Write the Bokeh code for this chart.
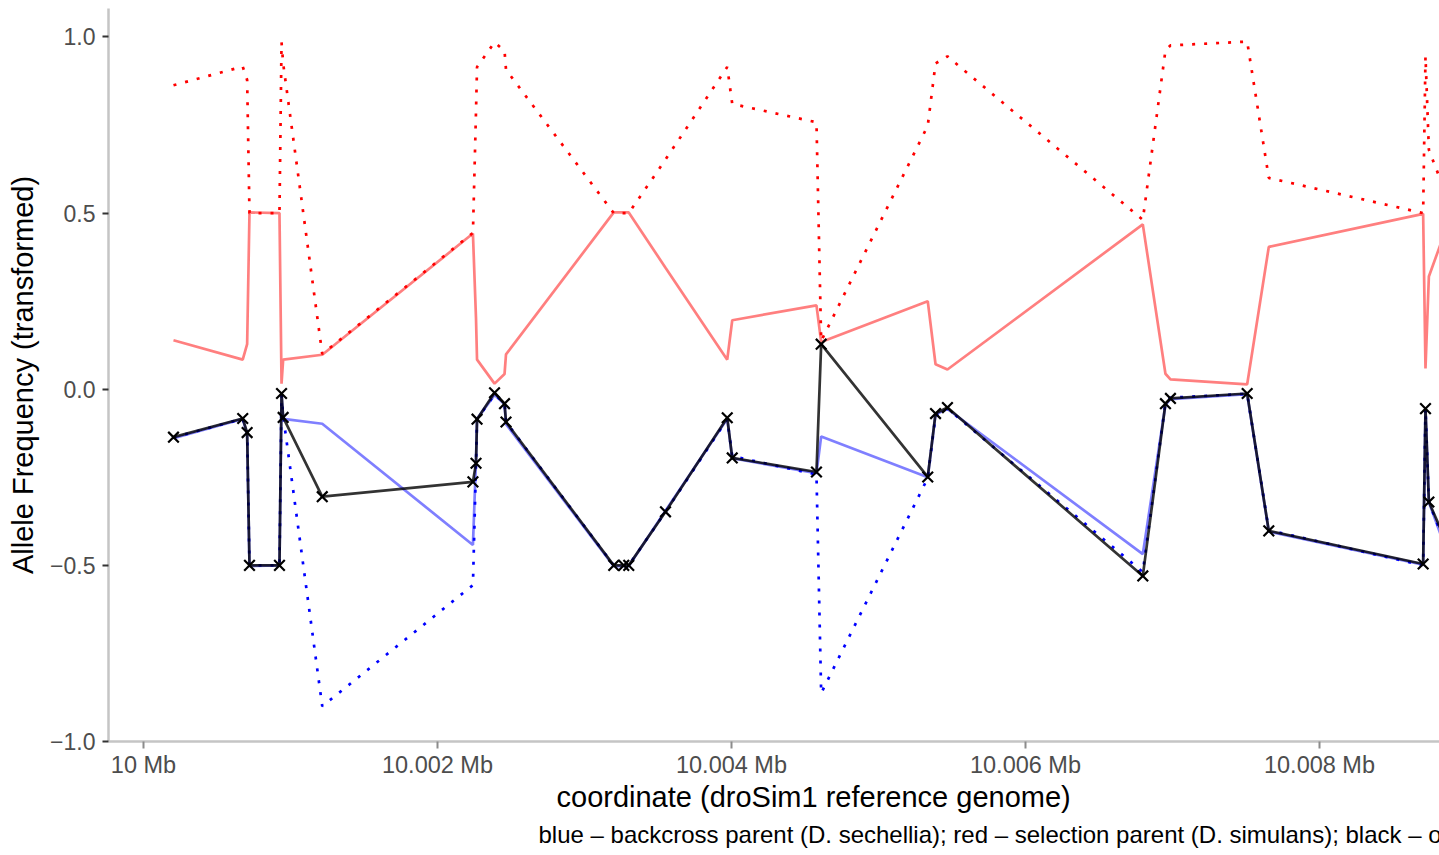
from bokeh.plotting import figure
from bokeh.models import Range1d, FixedTicker, Title
from bokeh.embed import file_html
from bokeh.resources import INLINE

# ---- data (positions in bp on droSim1; values = transformed allele frequency) ----
BASE = 10000000
pos_offset_bp = [204, 675, 705, 721, 925, 939, 950, 1216, 2241, 2262, 2269, 2388,
                 2456, 2466, 3199, 3267, 3301, 3551, 3971, 4005, 4578, 4610, 5335,
                 5388, 5469, 6798, 6952, 6986, 7508, 7655, 8705, 8721, 8744, 8891]

# black: offspring
offspring = [-0.136, -0.083, -0.123, -0.500, -0.500, -0.012, -0.080, -0.305, -0.263,
             -0.210, -0.085, -0.010, -0.041, -0.093, -0.500, -0.500, -0.500, -0.348,
             -0.081, -0.195, -0.235, 0.128, -0.249, -0.069, -0.052, -0.530, -0.041,
             -0.026, -0.012, -0.402, -0.496, -0.055, -0.320, -0.460]

# red dotted: selection parent (D. simulans)
selection_dotted = [0.863, 0.916, 0.878, 0.500, 0.500, 0.985, 0.925, 0.100, 0.444,
                    0.790, 0.915, 0.985, 0.960, 0.907, 0.500, 0.500, 0.500, 0.652,
                    0.915, 0.810, 0.758, 0.137, 0.748, 0.925, 0.945, 0.481, 0.962,
                    0.976, 0.987, 0.600, 0.500, 0.945, 0.680, 0.520]

# red solid: selection parent (light)
selection_solid = [0.139, 0.084, 0.128, 0.502, 0.500, 0.016, 0.084, 0.098, 0.442,
                   0.200, 0.084, 0.016, 0.043, 0.099, 0.502, 0.502, 0.502, 0.345,
                   0.084, 0.196, 0.238, 0.134, 0.250, 0.071, 0.056, 0.468, 0.044,
                   0.028, 0.014, 0.404, 0.498, 0.059, 0.320, 0.490]

# blue dotted: backcross parent (D. sechellia)
backcross_dotted = [-0.137, -0.084, -0.122, -0.500, -0.500, -0.015, -0.075, -0.900, -0.556,
                    -0.210, -0.085, -0.015, -0.040, -0.093, -0.500, -0.500, -0.500, -0.348,
                    -0.085, -0.190, -0.242, -0.863, -0.252, -0.075, -0.055, -0.519, -0.038,
                    -0.024, -0.013, -0.400, -0.500, -0.055, -0.320, -0.480]

# blue solid: backcross parent (light)
backcross_solid = [-0.139, -0.084, -0.128, -0.502, -0.500, -0.016, -0.084, -0.098, -0.442,
                   -0.200, -0.084, -0.016, -0.043, -0.099, -0.502, -0.502, -0.502, -0.345,
                   -0.084, -0.196, -0.238, -0.134, -0.250, -0.071, -0.056, -0.468, -0.044,
                   -0.028, -0.014, -0.404, -0.498, -0.059, -0.320, -0.490]

x_ticks = [10000000, 10002000, 10004000, 10006000, 10008000]
x_tick_labels = ["10 Mb", "10.002 Mb", "10.004 Mb", "10.006 Mb", "10.008 Mb"]
y_ticks = [-1.0, -0.5, 0.0, 0.5, 1.0]
y_tick_labels = ["\u22121.0", "\u22120.5", "0.0", "0.5", "1.0"]

x_title = "coordinate (droSim1 reference genome)"
y_title = "Allele Frequency (transformed)"
caption = ("blue \u2013 backcross parent (D. sechellia); red \u2013 selection parent "
           "(D. simulans); black \u2013 offspring")

positions = [BASE + o for o in pos_offset_bp]

FONT = "Liberation Sans"

p = figure(frame_width=1331, frame_height=733,
           min_border_left=108, min_border_right=0, min_border_top=8,
           min_border_bottom=100,
           x_range=Range1d(9999761.9, 10008816.3), y_range=Range1d(-1.0, 1.0809),
           output_backend="svg", toolbar_location=None)

p.outline_line_color = None
p.xgrid.grid_line_color = None
p.ygrid.grid_line_color = None
p.background_fill_color = "white"
p.border_fill_color = "white"

LW = 2.7
DASH = "3 9"
p.line(positions, selection_solid, line_color="#FF0000", line_alpha=0.5, line_width=LW)
p.line(positions, selection_dotted, line_color="#FF0000", line_width=LW, line_dash=DASH)
p.line(positions, backcross_solid, line_color="#0000FF", line_alpha=0.5, line_width=LW)
p.line(positions, backcross_dotted, line_color="#0000FF", line_width=LW, line_dash=DASH)
p.line(positions, offspring, line_color="black", line_alpha=0.8, line_width=LW)
p.scatter(positions, offspring, marker="x", size=15, line_color="black", line_width=2.2)

# x axis
xa = p.xaxis[0]
xa.ticker = FixedTicker(ticks=x_ticks)
xa.major_label_overrides = dict(zip(x_ticks, x_tick_labels))
xa.axis_line_color = "#C5C5C5"
xa.axis_line_width = 2.5
xa.major_tick_line_color = "#8C8C8C"
xa.major_tick_line_width = 2
xa.major_tick_out = 7
xa.major_tick_in = 0
xa.minor_tick_line_color = None
xa.major_label_text_font = FONT
xa.major_label_text_font_size = "23.5px"
xa.major_label_text_color = "#4D4D4D"
xa.major_label_standoff = 3

# y axis
ya = p.yaxis[0]
ya.ticker = FixedTicker(ticks=y_ticks)
ya.major_label_overrides = dict(zip(y_ticks, y_tick_labels))
ya.axis_line_color = "#C5C5C5"
ya.axis_line_width = 2.5
ya.major_tick_line_color = "#333333"
ya.major_tick_line_width = 2
ya.major_tick_out = 6
ya.major_tick_in = 0
ya.minor_tick_line_color = None
ya.major_label_text_font = FONT
ya.major_label_text_font_size = "23px"
ya.major_label_text_color = "#4D4D4D"
ya.major_label_standoff = 7
ya.axis_label = y_title
ya.axis_label_text_font = FONT
ya.axis_label_text_font_size = "29px"
ya.axis_label_text_font_style = "normal"
ya.axis_label_text_color = "black"
ya.axis_label_standoff = 8

t1 = Title(text=x_title, align="left", offset=448, text_font=FONT,
           text_font_size="29px", text_font_style="normal", text_color="black",
           standoff=-3)
p.add_layout(t1, "below")
t2 = Title(text=caption, align="left", offset=430, text_font=FONT,
           text_font_size="24px", text_font_style="normal", text_color="black",
           standoff=14)
p.add_layout(t2, "below")

open("out.html", "w").write(file_html(p, INLINE))
